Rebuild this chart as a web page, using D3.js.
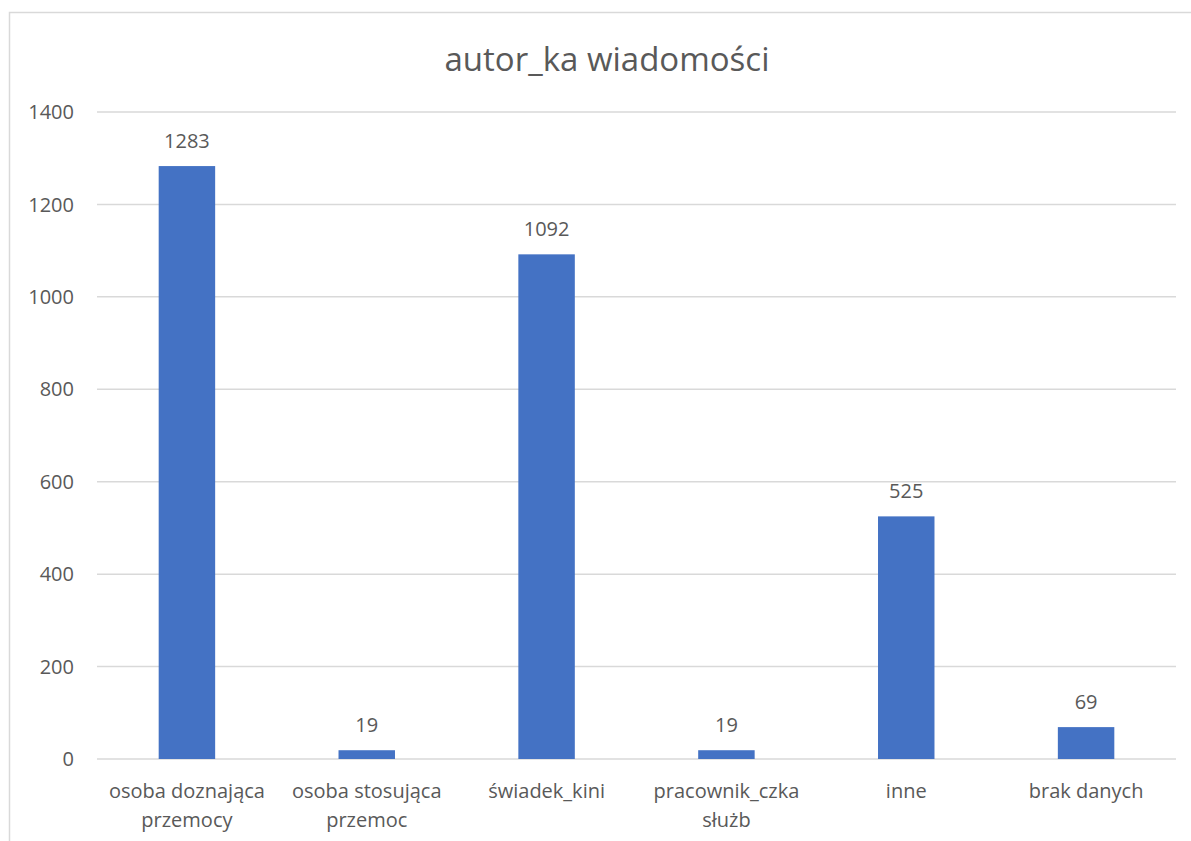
<!DOCTYPE html>
<html>
<head>
<meta charset="utf-8">
<script src="https://cdn.jsdelivr.net/npm/d3@7"></script>
<style>
  body { margin: 0; background: #fff; }
  svg text { font-family: "Open Sans", "Noto Sans", sans-serif; fill: #595959; }
</style>
</head>
<body>
<div id="chart"></div>
<script>
// data
var categories = ["osoba doznająca przemocy", "osoba stosująca przemoc", "świadek_kini", "pracownik_czka służb", "inne", "brak danych"];
var labelLines = [["osoba doznająca", "przemocy"], ["osoba stosująca", "przemoc"], ["świadek_kini"], ["pracownik_czka", "służb"], ["inne"], ["brak danych"]];
var values = [1283, 19, 1092, 19, 525, 69];
var yTicks = [0, 200, 400, 600, 800, 1000, 1200, 1400];
var title = "autor_ka wiadomości";

var width = 1191,
    height = 841;

var svg = d3.select("#chart")
    .append("svg")
    .attr("width", width)
    .attr("height", height);

// chart area border
svg.append("rect")
    .attr("x", 9.5).attr("y", 12.5)
    .attr("width", 1200).attr("height", 900)
    .attr("fill", "none")
    .attr("stroke", "#d9d9d9")
    .attr("stroke-width", 1.5);

var plotLeft = 97, plotRight = 1176, plotTop = 112, plotBottom = 759;

var x = d3.scaleBand()
    .domain(categories)
    .range([plotLeft, plotRight])
    .paddingInner(0.686)
    .paddingOuter(0.343);

var y = d3.scaleLinear()
    .domain([0, 1400])
    .range([plotBottom, plotTop]);

// gridlines
svg.append("g")
    .selectAll("line")
    .data(yTicks)
    .enter().append("line")
    .attr("x1", plotLeft).attr("x2", plotRight)
    .attr("y1", function(d) { return y(d); })
    .attr("y2", function(d) { return y(d); })
    .attr("stroke", "#d9d9d9")
    .attr("stroke-width", 1.5);

// y tick labels
svg.append("g")
    .selectAll("text")
    .data(yTicks)
    .enter().append("text")
    .attr("x", 74)
    .attr("y", function(d) { return y(d); })
    .attr("dy", "0.36em")
    .attr("text-anchor", "end")
    .style("font-size", "20px")
    .text(function(d) { return d; });

// bars
svg.append("g")
    .selectAll("rect")
    .data(values)
    .enter().append("rect")
    .attr("x", function(d, i) { return x(categories[i]); })
    .attr("y", function(d) { return y(d); })
    .attr("width", x.bandwidth())
    .attr("height", function(d) { return plotBottom - y(d); })
    .attr("fill", "#4472c4");

// value labels
svg.append("g")
    .selectAll("text")
    .data(values)
    .enter().append("text")
    .attr("x", function(d, i) { return x(categories[i]) + x.bandwidth() / 2; })
    .attr("y", function(d) { return y(d) - 18; })
    .attr("text-anchor", "middle")
    .style("font-size", "20px")
    .text(function(d) { return d; });

// category labels
var cat = svg.append("g")
    .selectAll("text")
    .data(labelLines)
    .enter().append("text")
    .attr("text-anchor", "middle")
    .style("font-size", "20px")
    .attr("transform", function(d, i) {
        return "translate(" + (x(categories[i]) + x.bandwidth() / 2) + ",798)";
    });
cat.selectAll("tspan")
    .data(function(d) { return d; })
    .enter().append("tspan")
    .attr("x", 0)
    .attr("y", function(d, j) { return j * 29; })
    .text(function(d) { return d; });

// title
svg.append("text")
    .attr("x", 607)
    .attr("y", 71)
    .attr("text-anchor", "middle")
    .style("font-size", "33px")
    .text(title);
</script>
</body>
</html>
